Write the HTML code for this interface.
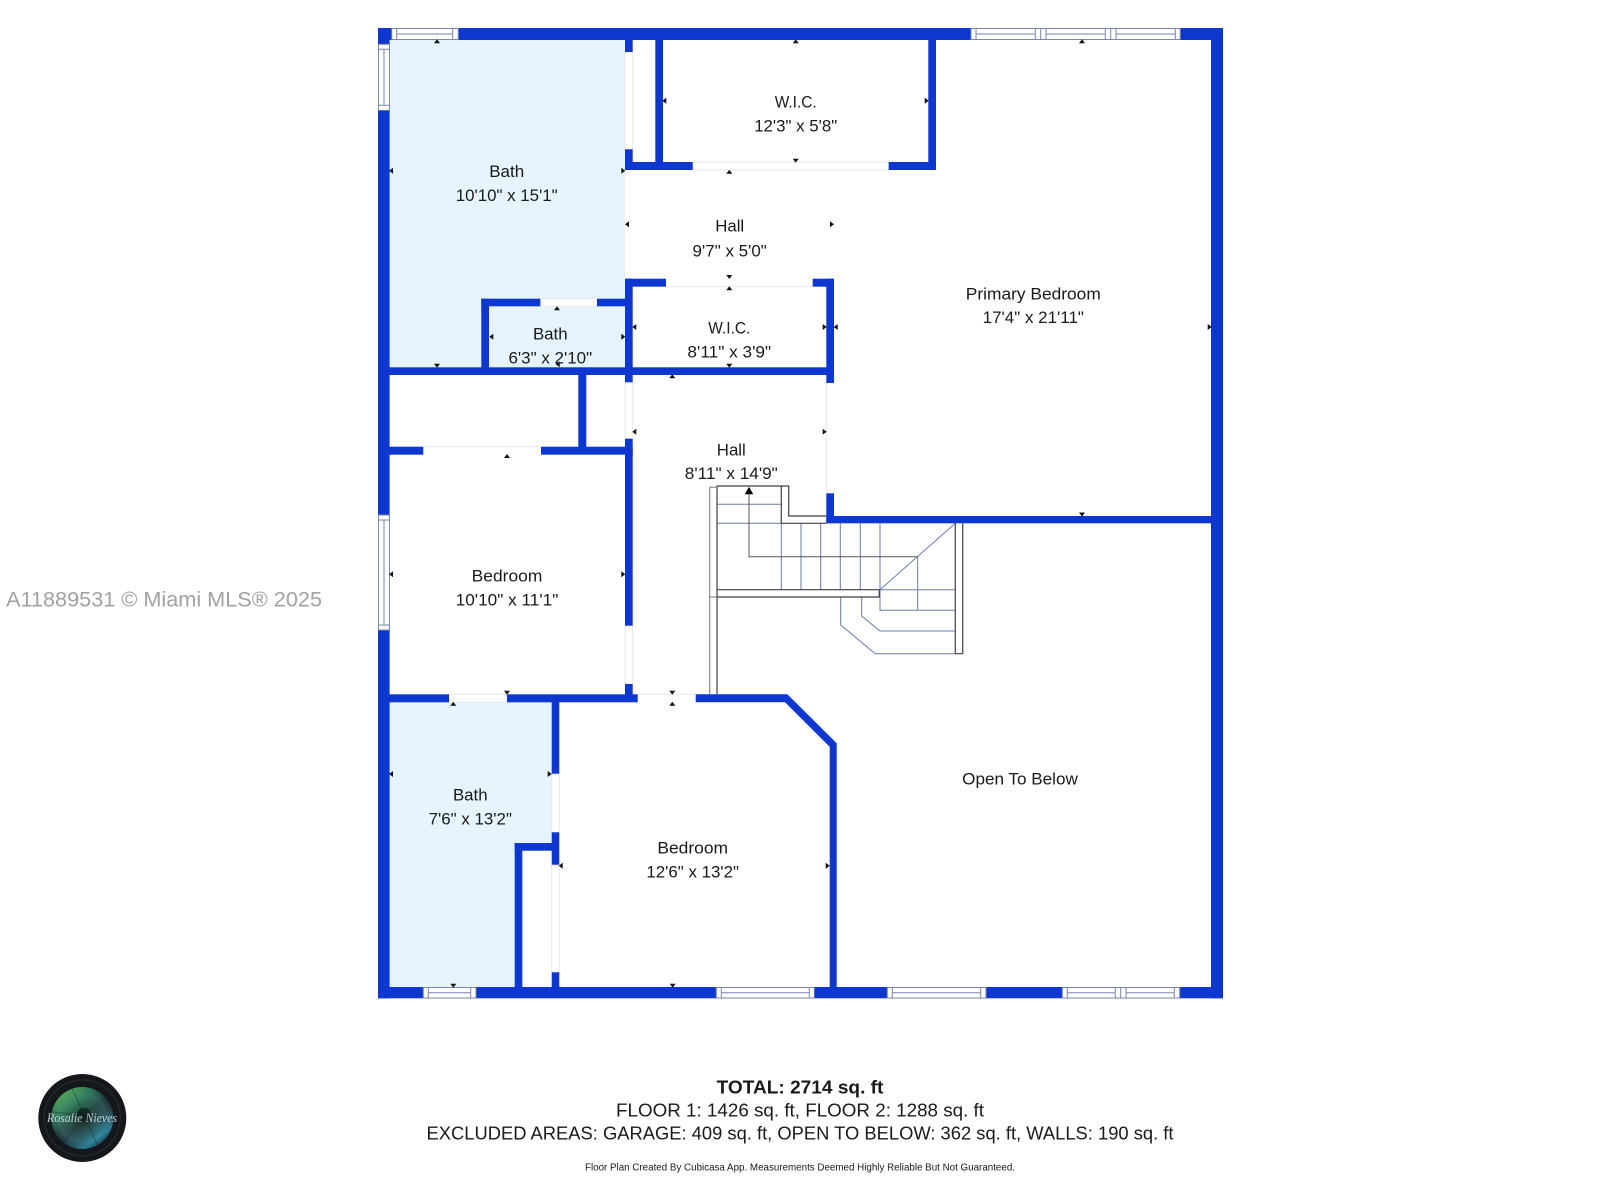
<!DOCTYPE html>
<html><head><meta charset="utf-8"><title>Floor Plan</title>
<style>html,body{margin:0;padding:0;background:#fff}svg{display:block}
text{font-family:"Liberation Sans",sans-serif;fill:#1a1a1a;text-anchor:middle}
.r{font-size:17px}.b{font-size:18px}</style></head><body>
<svg width="1600" height="1200" viewBox="0 0 1600 1200" xmlns="http://www.w3.org/2000/svg">
<defs>
<radialGradient id="iris" cx="0.5" cy="0.5" r="0.55"><stop offset="0" stop-color="#16241f"/><stop offset="0.35" stop-color="#2c4f46"/><stop offset="0.7" stop-color="#3c5f66"/><stop offset="1" stop-color="#10181e"/></radialGradient>
<linearGradient id="gl" x1="0.15" y1="0.05" x2="0.85" y2="0.95"><stop offset="0" stop-color="#6fd060" stop-opacity=".85"/><stop offset=".28" stop-color="#2f9a62" stop-opacity=".55"/><stop offset=".55" stop-color="#1a2f30" stop-opacity=".25"/><stop offset=".85" stop-color="#2f93b0" stop-opacity=".75"/><stop offset="1" stop-color="#153a52" stop-opacity=".7"/></linearGradient>
</defs>
<rect width="1600" height="1200" fill="#fff"/>
<!-- room fills -->
<rect x="389" y="40" width="236" height="328" fill="#E5F4FE"/>
<path d="M389 702H552V843H515V987H389Z" fill="#E5F4FE"/>
<!-- door openings -->
<g fill="#fff" stroke="#e9e9ee" stroke-width="1">
<rect x="625" y="52" width="7.7" height="97.3"/>
<rect x="692.7" y="162" width="196" height="8"/>
<rect x="666" y="278.7" width="146.7" height="8" stroke="none"/><path d="M666 286.7H812.7" fill="none"/>
<rect x="540.3" y="298.7" width="56.7" height="7.6"/>
<rect x="625" y="382" width="7.7" height="56.7"/>
<path d="M826.3 383V493" fill="none"/>
<rect x="423.3" y="446.7" width="117.7" height="8" stroke="none"/><path d="M423.3 446.7H541" fill="none"/>
<rect x="625" y="625.7" width="7.7" height="58.3"/>
<rect x="449" y="694.3" width="58" height="8"/>
<rect x="637.7" y="694.3" width="58" height="8" stroke="none"/><path d="M637.7 694.3H695.7" fill="none"/>
<rect x="551.7" y="773.7" width="7.6" height="58.6"/>
<rect x="551.7" y="864.7" width="7.6" height="107.6"/>
</g>
<!-- walls -->
<g fill="#0E37CF">
<rect x="378" y="28" width="845" height="12"/>
<rect x="378" y="28" width="11.6" height="970.3"/>
<rect x="1211" y="28" width="12" height="970.3"/>
<rect x="378" y="987" width="845" height="11.3"/>
<rect x="625" y="40" width="7.7" height="12"/>
<rect x="625" y="149.3" width="7.7" height="20.7"/>
<rect x="625" y="162" width="67.7" height="8"/>
<rect x="655.3" y="40" width="7.7" height="122"/>
<rect x="888.7" y="162" width="47.3" height="8"/>
<rect x="928.3" y="40" width="7.7" height="130"/>
<rect x="625" y="278.7" width="41" height="8"/>
<rect x="812.7" y="278.7" width="21.3" height="8"/>
<rect x="826.3" y="278.7" width="7.7" height="104.3"/>
<rect x="625" y="278.7" width="7.7" height="103.6"/>
<rect x="481.3" y="298.7" width="59" height="7.6"/>
<rect x="597" y="298.7" width="28" height="7.6"/>
<rect x="481.3" y="298.7" width="7.7" height="70"/>
<rect x="389" y="367.3" width="445" height="7.7"/>
<rect x="578.3" y="375" width="8" height="72"/>
<rect x="389" y="446.7" width="34.3" height="8"/>
<rect x="541" y="446.7" width="91.7" height="8"/>
<rect x="625" y="438.7" width="7.7" height="187"/>
<rect x="625" y="684" width="7.7" height="12"/>
<rect x="389" y="694.3" width="60" height="8"/>
<rect x="507" y="694.3" width="130.7" height="8"/>
<path d="M695.7 694.3H787.3L836.7 743.3V987H829.7V746.7L785 702.3H695.7Z"/>
<rect x="551.7" y="702" width="7.6" height="71.7"/>
<rect x="551.7" y="832.3" width="7.6" height="32.4"/>
<rect x="551.7" y="972.3" width="7.6" height="15"/>
<rect x="514.7" y="843" width="37.3" height="7.7"/>
<rect x="514.7" y="843" width="7.6" height="144"/>
<rect x="826.3" y="493.3" width="7.7" height="30"/>
<rect x="826.3" y="516" width="384.7" height="7.3"/>
</g>
<!-- windows -->
<g fill="#fff" stroke="#7a86ab" stroke-width="1">
<rect x="391.7" y="28.5" width="66.6" height="11"/><path d="M396.7 28.5V39.5M452.7 28.5V39.5M396.7 34H452.7"/>
<rect x="378.5" y="44.3" width="11" height="66"/><path d="M378.5 49.3H389.5M378.5 105.3H389.5M384 49.3V105.3"/>
<rect x="378.5" y="515" width="11" height="115"/><path d="M378.5 520H389.5M378.5 625H389.5M384 520V625"/>
<rect x="971" y="28.5" width="209.3" height="11"/><path d="M976 28.5V39.5M1035.3 28.5V39.5M1040.7 28.5V39.5M1046 28.5V39.5M1105.3 28.5V39.5M1110.7 28.5V39.5M1116 28.5V39.5M1175.3 28.5V39.5M976 34H1035.3M1046 34H1105.3M1116 34H1175.3"/>
<rect x="423.3" y="987.5" width="52.7" height="10.5"/><path d="M428.3 987.5V998M470.7 987.5V998M428.3 992.7H470.7"/>
<rect x="716.3" y="987.5" width="98" height="10.5"/><path d="M721.3 987.5V998M809.3 987.5V998M721.3 992.7H809.3"/>
<rect x="887.3" y="987.5" width="98.7" height="10.5"/><path d="M892.3 987.5V998M980.7 987.5V998M892.3 992.7H980.7"/>
<rect x="1062.3" y="987.5" width="117.4" height="10.5"/><path d="M1067.3 987.5V998M1115.3 987.5V998M1120.7 987.5V998M1126 987.5V998M1174.3 987.5V998M1067.3 992.7H1115.3M1126 992.7H1174.3"/>
</g>
<!-- stairs -->
<g fill="none" stroke-width="1">
<g stroke="#6b7ba8">
<path d="M717 504.3H781.3M717 523.3H781.3"/>
<path d="M781.3 523.3V589.7M801 523.3V589.7M820.7 523.3V589.7M840.3 523.3V589.7M860.3 523.3V589.7M880 523.3V589.7"/>
<path d="M880 589.7L955.3 523.3M880 589.7H955.3"/>
<path d="M861.7 597V616L880 631H955.3"/>
<path d="M840.7 597V625L875.3 653.7H955.3"/>
<path d="M917.7 556.7V610.3"/>
<path d="M880 589.7V610.3H955.3"/>
</g>
<g stroke="#55555f">
<path d="M749 494V556.7H917.7"/>
</g>
<g stroke="#3f3f46" stroke-width="1.2">
<path d="M717 694V486H788.7V516H826.3"/>
<path d="M781.3 486V523.3H826.3"/>
<path d="M717 589.7H879.3V597H717"/>
<path d="M955.3 523.3V653.7H962.7V523.3"/>
</g>
<g stroke="#8a8a8a" stroke-width="1.2">
<path d="M717 487.3H709.7V694"/>
<path d="M709.7 597H717"/>
</g>
</g>
<path d="M749 486.7L753.2 494.3H744.8Z" fill="#000"/>
<!-- dimension markers -->
<g fill="#111">
<path d="M437 39.3l3 4h-6zM795.7 39.3l3 4h-6zM1082 39.3l3 4h-6zM729.3 169.7l3 4h-6zM729.3 286.3l3 4h-6zM557 306.3l3 4h-6zM672.3 374.3l3 4h-6zM507 454l3 4h-6zM453.3 701.7l3 4h-6zM672.3 701.7l3 4h-6z"/>
<path d="M795.7 162.7l3-4h-6zM729.3 279l3-4h-6zM437 367.7l3-4h-6zM729.3 367.7l3-4h-6zM1082 516.5l3-4h-6zM507 694.7l3-4h-6zM672.3 694.7l3-4h-6zM453.3 987.7l3-4h-6zM672.7 987.7l3-4h-6z"/>
<path d="M662.3 100.7l4-3v6zM389 170.7l4-3v6zM625 224.3l4-3v6zM489.3 336.7l4-3v6zM632.3 327l4-3v6zM833.7 327l4-3v6zM632.3 431.7l4-3v6zM389 574.3l4-3v6zM389 774l4-3v6zM558.7 865.7l4-3v6zM555.7 364.3l4-3v6z"/>
<path d="M928.7 100.7l-4-3v6zM625.3 170.7l-4-3v6zM834 224.3l-4-3v6zM625.3 336.7l-4-3v6zM826.7 327l-4-3v6zM1211.7 327l-4-3v6zM826.7 431.7l-4-3v6zM625.3 574.3l-4-3v6zM551.7 774l-4-3v6zM829.7 865.7l-4-3v6z"/>
</g>
<!-- room labels -->
<g transform="translate(0,-0.7)">
<text class="r" x="506.7" y="177.7" textLength="35" lengthAdjust="spacingAndGlyphs">Bath</text>
<text class="r" x="506.7" y="201.7" textLength="102" lengthAdjust="spacingAndGlyphs">10'10" x 15'1"</text>
<text class="r" x="795.7" y="108.3" textLength="42" lengthAdjust="spacingAndGlyphs">W.I.C.</text>
<text class="r" x="795.7" y="132.3" textLength="83" lengthAdjust="spacingAndGlyphs">12'3" x 5'8"</text>
<text class="r" x="729.7" y="232.3" textLength="29" lengthAdjust="spacingAndGlyphs">Hall</text>
<text class="r" x="729.7" y="257" textLength="74.3" lengthAdjust="spacingAndGlyphs">9'7" x 5'0"</text>
<text class="r" x="550.3" y="340" textLength="34.7" lengthAdjust="spacingAndGlyphs">Bath</text>
<text class="r" x="550.3" y="364" textLength="83.7" lengthAdjust="spacingAndGlyphs">6'3" x 2'10"</text>
<text class="r" x="729.3" y="334.3" textLength="42" lengthAdjust="spacingAndGlyphs">W.I.C.</text>
<text class="r" x="729.3" y="358.3" textLength="83.7" lengthAdjust="spacingAndGlyphs">8'11" x 3'9"</text>
<text class="r" x="1033.3" y="300" textLength="135" lengthAdjust="spacingAndGlyphs">Primary Bedroom</text>
<text class="r" x="1033.3" y="323.7" textLength="101.3" lengthAdjust="spacingAndGlyphs">17'4" x 21'11"</text>
<text class="r" x="731.3" y="456" textLength="29" lengthAdjust="spacingAndGlyphs">Hall</text>
<text class="r" x="731.3" y="479.7" textLength="93" lengthAdjust="spacingAndGlyphs">8'11" x 14'9"</text>
<text class="r" x="507" y="582" textLength="70.7" lengthAdjust="spacingAndGlyphs">Bedroom</text>
<text class="r" x="507" y="606" textLength="102.7" lengthAdjust="spacingAndGlyphs">10'10" x 11'1"</text>
<text class="r" x="470.3" y="801.3" textLength="34.7" lengthAdjust="spacingAndGlyphs">Bath</text>
<text class="r" x="470.3" y="825.3" textLength="83.3" lengthAdjust="spacingAndGlyphs">7'6" x 13'2"</text>
<text class="r" x="692.7" y="854" textLength="70.7" lengthAdjust="spacingAndGlyphs">Bedroom</text>
<text class="r" x="692.7" y="878" textLength="92.7" lengthAdjust="spacingAndGlyphs">12'6" x 13'2"</text>
<text class="r" x="1020" y="785.3" textLength="115.7" lengthAdjust="spacingAndGlyphs">Open To Below</text>
</g>
<!-- summary -->
<g transform="translate(0,-0.7)">
<text class="b" x="800" y="1094.3" font-weight="700" textLength="166.8" lengthAdjust="spacingAndGlyphs">TOTAL: 2714 sq. ft</text>
<text class="b" x="800" y="1117.3" textLength="368" lengthAdjust="spacingAndGlyphs">FLOOR 1: 1426 sq. ft, FLOOR 2: 1288 sq. ft</text>
<text class="b" x="800" y="1140" textLength="747" lengthAdjust="spacingAndGlyphs">EXCLUDED AREAS: GARAGE: 409 sq. ft, OPEN TO BELOW: 362 sq. ft, WALLS: 190 sq. ft</text>
<text x="800" y="1171" font-size="10" textLength="430" lengthAdjust="spacingAndGlyphs">Floor Plan Created By Cubicasa App. Measurements Deemed Highly Reliable But Not Guaranteed.</text>
</g>
<!-- watermark -->
<text x="6" y="606.7" font-size="21" style="fill:#a2a2a2;text-anchor:start" textLength="316" lengthAdjust="spacingAndGlyphs">A11889531 © Miami MLS® 2025</text>
<!-- logo -->
<circle cx="82.3" cy="1118" r="44" fill="#14171b"/>
<circle cx="82.3" cy="1118" r="38" fill="none" stroke="#24272c" stroke-width="1.5"/>
<circle cx="82.3" cy="1118" r="31" fill="url(#iris)"/>
<circle cx="82.3" cy="1118" r="31" fill="url(#gl)"/>
<g stroke="#0d1a1e" stroke-width="1" opacity=".35" fill="none">
<path d="M84 1115L72 1088M84 1115L106 1097M84 1115L113 1122M84 1115L98 1146M84 1115L64 1143M84 1115L52 1112"/>
</g>
<circle cx="84" cy="1115" r="7" fill="#0f211d" opacity=".8"/>
<text x="82" y="1122" font-size="13" style="fill:#dfe6f5;font-family:'Liberation Serif',serif;font-style:italic;opacity:.85" textLength="70" lengthAdjust="spacingAndGlyphs">Rosalie Nieves</text>
</svg>
</body></html>
